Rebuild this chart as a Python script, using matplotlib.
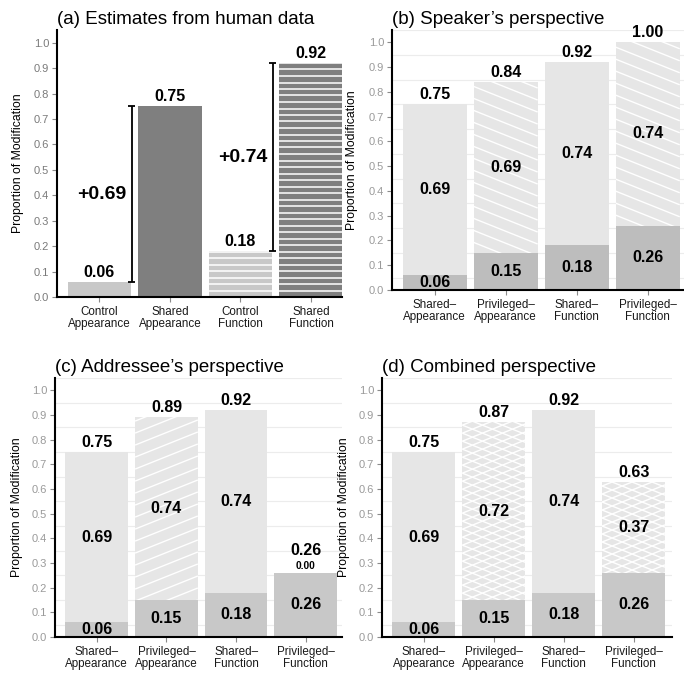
import numpy as np
import matplotlib.pyplot as plt

plt.rcParams['font.family'] = ['Liberation Sans', 'DejaVu Sans']

# panel (a): estimates from human data
human_labels = ['Control\nAppearance', 'Shared\nAppearance', 'Control\nFunction', 'Shared\nFunction']
human_est = [0.06, 0.75, 0.18, 0.92]

# panels (b)-(d): stacked model predictions
cond_labels = ['Shared\u2013\nAppearance', 'Privileged\u2013\nAppearance',
               'Shared\u2013\nFunction', 'Privileged\u2013\nFunction']
base_vals = [0.06, 0.15, 0.18, 0.26]
speaker_top = [0.69, 0.69, 0.74, 0.74]
addressee_top = [0.69, 0.74, 0.74, 0.00]
combined_top = [0.69, 0.72, 0.74, 0.37]
privileged = [False, True, False, True]

W, H = 684, 677
fig = plt.figure(figsize=(W / 100, H / 100), dpi=100)


def px_axes(left, top, right, bottom):
    return fig.add_axes([left / W, 1 - bottom / H, (right - left) / W, (bottom - top) / H])


def hatch_bar(ax, rect, angles, spacing, lw=1.0):
    # white line hatching clipped to a bar
    bb = rect.get_window_extent()
    x0, y0, x1, y1 = bb.x0, bb.y0, bb.x1, bb.y1
    w = x1 - x0
    inv = ax.transData.inverted()
    for ang in angles:
        m = np.tan(np.radians(ang))
        span = abs(m) * w
        for c in np.arange(y0 - span - spacing, y1 + span + spacing, spacing):
            pts = inv.transform([[x0, c], [x1, c + m * w]])
            ln, = ax.plot(pts[:, 0], pts[:, 1], color='white', lw=lw,
                          solid_capstyle='butt', zorder=rect.get_zorder() + 0.1)
            ln.set_clip_path(rect)


def style_axes(ax, labels, xmax, tick_color, grid):
    ax.set_xlim(-0.6, xmax)
    ax.set_ylim(0, 1.05)
    ax.autoscale(False)
    for s in ['top', 'right']:
        ax.spines[s].set_visible(False)
    for s in ['left', 'bottom']:
        ax.spines[s].set_linewidth(1.5)
        ax.spines[s].set_color('black')
    ax.set_yticks(np.arange(0, 1.01, 0.1))
    ax.set_yticklabels(['%.1f' % v for v in np.arange(0, 1.01, 0.1)])
    ax.set_xticks(range(len(labels)))
    ax.set_xticklabels(labels, fontsize=8.4, linespacing=0.95, color='#1a1a1a')
    ax.tick_params(axis='y', labelsize=8, colors='#8a8a8a', length=3.5, width=0.8, pad=2)
    ax.tick_params(axis='y', labelcolor=tick_color)
    ax.tick_params(axis='x', length=3.5, width=0.8, color='#8a8a8a', pad=3)
    ax.set_ylabel('Proportion of Modification', fontsize=8.8)
    if grid:
        for g in np.arange(0.05, 1.06, 0.1):
            ax.axhline(g, color='#ececec', lw=0.8, zorder=0)


# ---- (a)
ax = px_axes(57, 30, 342, 297)
style_axes(ax, human_labels, 3.44, '#7a7a7a', False)
ax.yaxis.set_label_coords(-0.116, 0.5)
cols = ['#c8c8c8', '#7f7f7f', '#c8c8c8', '#7f7f7f']
bars = ax.bar(range(4), human_est, width=0.9, color=cols, linewidth=0, zorder=2)
for i in [2, 3]:
    hatch_bar(ax, bars[i], [0], 6.5, lw=1.1)
for i, v in enumerate(human_est):
    ax.annotate('%.2f' % v, (i, v), xytext=(0, 1.5), textcoords='offset points',
                ha='center', va='bottom', fontsize=11.5, fontweight='bold')
for lo, hi in [(0, 1), (2, 3)]:
    a, b = human_est[lo], human_est[hi]
    xb = lo + 0.46
    ax.vlines(xb, a, b, color='black', lw=1.3, zorder=3)
    ax.hlines([a, b], xb - 0.05, xb + 0.05, color='black', lw=1.3, zorder=3)
    ax.text(lo + 0.04, (a + b) / 2, '+%.2f' % (b - a), ha='center', va='center',
            fontsize=14, fontweight='bold')
ax.set_title('(a) Estimates from human data', loc='left', fontsize=13.5, pad=4)


def stacked_panel(box, xmax, tops, base_color, angles, spacing, title, lab_x):
    ax = px_axes(*box)
    style_axes(ax, cond_labels, xmax, '#9a9a9a', True)
    ax.yaxis.set_label_coords(lab_x, 0.5)
    x = np.arange(4)
    ax.bar(x, base_vals, width=0.9, color=base_color, linewidth=0, zorder=2)
    tb = ax.bar(x, tops, bottom=base_vals, width=0.9, color='#e6e6e6', linewidth=0, zorder=2)
    for i in range(4):
        if privileged[i] and tops[i] > 0:
            hatch_bar(ax, tb[i], angles, spacing, lw=1.0)
    for i in range(4):
        b, t = base_vals[i], tops[i]
        ax.text(i, b / 2, '%.2f' % b, ha='center', va='center', fontsize=11.5,
                fontweight='bold', zorder=5)
        off = 1.5
        if t > 0:
            ax.text(i, b + t / 2, '%.2f' % t, ha='center', va='center', fontsize=11.5,
                    fontweight='bold', zorder=5)
        else:
            ax.annotate('%.2f' % t, (i, b + t), xytext=(0, 1.5), textcoords='offset points',
                        ha='center', va='bottom', fontsize=7.4, fontweight='bold')
            off = 11
        ax.annotate('%.2f' % (b + t), (i, b + t), xytext=(0, off), textcoords='offset points',
                    ha='center', va='bottom', fontsize=11.5, fontweight='bold', zorder=5)
    ax.set_title(title, loc='left', fontsize=13.5, pad=4)
    return ax


stacked_panel((392, 30, 684, 290), 3.51, speaker_top, '#bdbdbd', [-21.8], 12,
              "(b) Speaker\u2019s perspective", -0.116)
stacked_panel((55, 378, 342, 637), 3.52, addressee_top, '#c8c8c8', [21.8], 12,
              "(c) Addressee\u2019s perspective", -0.111)
stacked_panel((382, 378, 672, 637), 3.55, combined_top, '#c8c8c8', [21.8, -21.8], 8,
              '(d) Combined perspective', -0.110)

fig.savefig('out.png', dpi=100)
